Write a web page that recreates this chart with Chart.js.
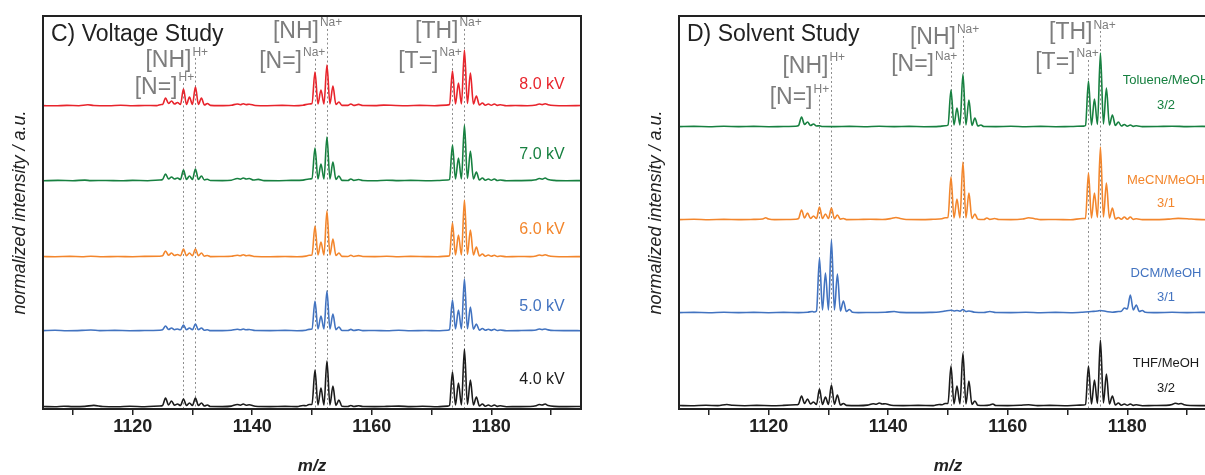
<!DOCTYPE html>
<html>
<head>
<meta charset="utf-8">
<title>ESI-MS voltage and solvent study</title>
<script src="https://cdn.jsdelivr.net/npm/chart.js@4.4.1/dist/chart.umd.min.js"></script>
<style>
  html, body { margin: 0; padding: 0; background: #fff; overflow: hidden; width: 1205px; height: 475px; position: relative; }
  canvas { position: absolute; top: 0; }
  #voltage { left: 0; }
  #solvent { left: 636px; }
</style>
</head>
<body>
<canvas id="voltage" width="600" height="475"></canvas>
<canvas id="solvent" width="600" height="475"></canvas>
<script>
// ---- axis ----
const mzMin = 1105;
const mzMax = 1195;
const tickValues = [1110, 1120, 1130, 1140, 1150, 1160, 1170, 1180, 1190];
const labeledTicks = [1120, 1140, 1160, 1180];

// ---- assignment markers (m/z of the dotted guide lines) ----
const markerMz   = [1128.5, 1130.5, 1150.5, 1152.5, 1173.5, 1175.5];
const markerMain = ['[N=]', '[NH]', '[N=]', '[NH]', '[T=]', '[TH]'];
const markerSup  = ['H+', 'H+', 'Na+', 'Na+', 'Na+', 'Na+'];

// ---- series names ----
const voltageNames = ['8.0 kV', '7.0 kV', '6.0 kV', '5.0 kV', '4.0 kV'];
const solventNames = [['Toluene/MeOH', '3/2'], ['MeCN/MeOH', '3/1'], ['DCM/MeOH', '3/1'], ['THF/MeOH', '3/2']];

// ---- spectra: [m/z, normalized intensity] ----
const kv8 = [
 [1105,0.4],[1107,0.2],[1109,0.6],[1111,0.3],[1112.5,1.2],[1113.5,0.5],[1116,0.3],[1118,0.7],[1120,0.2],[1122,0.5],[1124,0.4],[1124.8,1.5],
 [1125,1.5],[1125.5,8],[1126,2.5],[1126.5,5],[1127,2],[1127.5,3.5],[1128,1.5],[1128.5,17],[1129,1.5],[1129.5,9],[1130,1.5],[1130.5,19],[1131,1.5],[1131.5,8],[1132,1],[1132.5,2.5],[1133,0.6],
 [1134.5,0.4],[1136.5,0.8],[1137.5,2],[1138,1.3],[1138.5,2.2],[1139,1.4],[1139.5,1.8],[1140.5,0.5],[1142.5,0.3],[1145,0.6],[1147,0.3],[1148.5,0.8],[1149.5,2],
 [1150,2.5],[1150.5,34],[1151,2],[1151.5,16],[1152,2],[1152.5,41],[1153,2],[1153.5,20],[1154,1.5],[1154.5,4],[1155,0.6],[1156,0.6],[1156.5,2],[1157,0.6],[1157.8,1.6],[1158.5,0.5],
 [1160.5,0.4],[1162,0.9],[1164,0.5],[1166,0.3],[1168,0.6],[1170.5,0.3],[1172.5,0.9],[1173,1.5],
 [1173.5,35],[1174,2],[1174.5,23],[1175,2],[1175.5,56],[1176,2.5],[1176.5,33],[1177,2],[1177.5,10],[1178,1],[1178.5,3],[1179,0.8],[1179.5,2],[1180,0.7],[1180.5,2],[1181,0.6],[1181.5,1.3],[1182.5,0.3],
 [1184,0.5],[1186,0.3],[1187.5,1],[1188,2],[1188.5,1.4],[1189,2.2],[1189.5,1.2],[1190.5,0.5],[1192.5,0.3],[1195,0.5]
];
const kv7 = [
 [1105,0.3],[1107.5,0.6],[1110,0.3],[1112,0.9],[1113,0.4],[1115.5,0.5],[1118,0.2],[1120,0.6],[1122.5,0.3],[1124.5,1],
 [1125,1.5],[1125.5,7],[1126,2],[1126.5,4],[1127,2],[1127.5,3],[1128,1.5],[1128.5,11],[1129,1.5],[1129.5,5],[1130,1.5],[1130.5,12],[1131,1.5],[1131.5,5],[1132,1],[1132.5,1.8],[1133,0.5],
 [1135,0.4],[1136.5,0.8],[1137.5,2.5],[1138,1.8],[1138.5,3],[1139,2],[1139.5,2.5],[1140.2,1],[1141,1.6],[1142,0.4],[1144.5,0.3],[1146.5,0.6],[1148.5,0.9],[1149.5,2],
 [1150,2.5],[1150.5,33],[1151,2],[1151.5,17],[1152,2],[1152.5,44],[1153,2],[1153.5,19],[1154,1.5],[1154.5,5],[1155,0.6],[1156,0.5],[1156.5,2],[1157,0.6],[1157.8,1.5],[1158.5,0.5],
 [1160.5,0.3],[1162.5,0.8],[1164.5,0.4],[1166.5,0.6],[1169,0.3],[1171,0.5],[1172.7,1],[1173,1.5],
 [1173.5,36],[1174,2],[1174.5,23],[1175,2],[1175.5,56],[1176,2.5],[1176.5,30],[1177,2],[1177.5,9],[1178,1],[1178.5,3],[1179,0.8],[1179.5,2],[1180,0.7],[1180.5,2],[1181,0.5],[1181.5,1],[1182.5,0.3],
 [1184.5,0.4],[1186.5,0.6],[1187.5,1.2],[1188,2.5],[1188.5,1.8],[1189,3],[1189.5,1.5],[1190.5,0.6],[1192.5,0.3],[1195,0.4]
];
const kv6 = [
 [1105,0.5],[1107,0.3],[1109.5,0.6],[1111.5,0.3],[1113,0.8],[1115,0.3],[1117.5,0.5],[1120,0.3],[1122,0.6],[1124.5,0.8],
 [1125,1.2],[1125.5,6],[1126,1.8],[1126.5,4],[1127,1.5],[1127.5,2.5],[1128,1.2],[1128.5,8],[1129,1.2],[1129.5,4],[1130,1.2],[1130.5,8],[1131,1.2],[1131.5,4],[1132,0.8],[1132.5,1.5],[1133,0.4],
 [1135,0.5],[1136.5,0.7],[1137.5,1.8],[1138,1.2],[1138.5,2.2],[1139,1.3],[1139.5,1.6],[1140.5,0.5],[1143,0.3],[1145.5,0.5],[1147.5,0.3],[1149,0.9],[1149.5,1.8],
 [1150,2],[1150.5,31],[1151,2],[1151.5,15],[1152,2],[1152.5,46],[1153,2],[1153.5,18],[1154,1.5],[1154.5,4],[1155,0.6],[1156,0.5],[1156.5,1.8],[1157,0.5],[1157.8,1.4],[1158.5,0.5],
 [1160.5,0.4],[1162.5,0.7],[1164.5,0.3],[1166.5,0.6],[1169,0.4],[1171,0.3],[1172.7,0.9],[1173,1.4],
 [1173.5,34],[1174,2],[1174.5,22],[1175,2],[1175.5,57],[1176,2.5],[1176.5,27],[1177,2],[1177.5,10],[1178,1],[1178.5,3],[1179,0.8],[1179.5,2],[1180,0.7],[1180.5,1.8],[1181,0.5],[1181.5,1],[1182.5,0.3],
 [1184.5,0.5],[1186.5,0.4],[1187.5,1],[1188,2],[1188.5,1.5],[1189,2.2],[1189.5,1.2],[1190.5,0.5],[1192.5,0.3],[1195,0.4]
];
const kv5 = [
 [1105,0.4],[1107,0.7],[1109,0.3],[1111.5,0.6],[1113,1],[1114.5,0.4],[1117,0.6],[1119.5,0.3],[1122,0.5],[1124.5,0.8],
 [1125,1.2],[1125.5,5],[1126,1.5],[1126.5,3],[1127,1.3],[1127.5,2],[1128,1.2],[1128.5,6],[1129,1.2],[1129.5,3],[1130,1.2],[1130.5,7],[1131,1.2],[1131.5,3],[1132,0.8],[1132.5,1.3],[1133,0.4],
 [1135,0.4],[1136.5,0.8],[1137.5,1.8],[1138,1.2],[1138.5,2],[1139,1.2],[1139.5,1.5],[1140.5,0.5],[1143,0.4],[1145.5,0.6],[1147.5,0.3],[1149,0.8],[1149.5,1.6],
 [1150,2],[1150.5,30],[1151,2],[1151.5,15],[1152,2],[1152.5,40],[1153,2],[1153.5,17],[1154,1.3],[1154.5,4],[1155,0.5],[1156,0.5],[1156.5,1.6],[1157,0.5],[1157.8,1.3],[1158.5,0.4],
 [1160.5,0.5],[1162.5,0.3],[1164.5,0.7],[1166.5,0.3],[1169,0.5],[1171,0.3],[1172.7,0.8],[1173,1.3],
 [1173.5,31],[1174,2],[1174.5,21],[1175,2],[1175.5,52],[1176,2.3],[1176.5,24],[1177,1.8],[1177.5,7],[1178,0.9],[1178.5,2.5],[1179,0.7],[1179.5,1.8],[1180,0.6],[1180.5,1.8],[1181,0.5],[1181.5,1],[1182.5,0.3],
 [1184.5,0.4],[1186.5,0.6],[1187.5,1],[1188,2],[1188.5,1.4],[1189,2],[1189.5,1.1],[1190.5,0.5],[1192.5,0.4],[1195,0.3]
];
const kv4 = [
 [1105,0.5],[1107,0.3],[1108.5,0.8],[1110,0.4],[1112,0.6],[1113.5,1.6],[1115,0.5],[1117.5,0.3],[1119.5,0.8],[1122,0.3],[1124.5,1],
 [1125,1.5],[1125.5,9],[1126,2],[1126.5,6],[1127,1.8],[1127.5,3],[1128,1.5],[1128.5,8],[1129,1.5],[1129.5,4],[1130,1.5],[1130.5,9],[1131,1.5],[1131.5,4],[1132,1],[1132.5,2],[1133,0.5],
 [1135,0.4],[1136.5,0.9],[1137.5,2.5],[1138,1.8],[1138.5,3],[1139,1.8],[1139.5,2.2],[1140.5,0.7],[1143,0.4],[1145.5,0.6],[1147.5,0.4],[1148.5,1.5],[1149,1.2],[1149.5,2.5],
 [1150,2.5],[1150.5,37],[1151,2],[1151.5,19],[1152,2],[1152.5,46],[1153,2],[1153.5,21],[1154,1.5],[1154.5,7],[1155,0.8],[1156,0.5],[1156.5,1.5],[1157,0.5],[1157.8,1.2],[1158.5,0.5],
 [1160.5,0.4],[1162.5,0.6],[1164.5,0.9],[1166.5,0.4],[1168.5,0.7],[1171,0.3],[1172.7,0.9],[1173,1.5],
 [1173.5,35],[1174,2],[1174.5,24],[1175,2],[1175.5,58],[1176,2.5],[1176.5,27],[1177,2],[1177.5,10],[1178,1],[1178.5,3],[1179,0.8],[1179.5,2],[1180,0.7],[1180.5,2],[1181,0.6],[1181.5,1.2],[1182.5,0.3],
 [1184.5,0.4],[1186.5,0.5],[1187.5,1.3],[1188,2.5],[1188.5,2],[1189,3],[1189.5,1.5],[1190.5,0.6],[1192.5,0.4],[1195,0.5]
];

const tolMeOH = [
 [1105,0.4],[1107.5,0.6],[1110,0.3],[1112.5,0.7],[1115,0.4],[1117.5,0.6],[1120,0.3],[1122.5,0.5],[1124.5,0.8],
 [1125,1.5],[1125.5,10],[1126,2.5],[1126.5,5],[1127,1.5],[1127.5,3],[1128,1],[1128.5,1.2],[1129,0.5],
 [1131,0.4],[1133.5,0.6],[1136,0.3],[1138.5,0.7],[1141,0.4],[1143.5,0.6],[1146,0.3],[1148.5,0.6],[1149.5,1.2],
 [1150,2],[1150.5,37],[1151,2],[1151.5,19],[1152,2],[1152.5,53],[1153,2],[1153.5,27],[1154,1.5],[1154.5,9],[1155,1],[1155.5,2],[1156,0.5],
 [1158,0.4],[1160.5,0.7],[1163,0.3],[1165.5,0.6],[1168,0.3],[1170.5,0.5],[1172.7,0.9],[1173,1.5],
 [1173.5,46],[1174,2],[1174.5,28],[1175,2.5],[1175.5,74],[1176,3],[1176.5,39],[1177,2],[1177.5,12],[1178,1.5],[1178.5,5],[1179,1],[1179.5,2.5],[1180,0.8],[1180.5,2],[1181,0.6],[1181.5,1.2],[1182.5,0.4],
 [1185,0.5],[1187.5,0.8],[1190,0.4],[1192.5,0.6],[1195,0.3]
];
const mecnMeOH = [
 [1105,0.4],[1107.5,0.7],[1110,0.3],[1112.5,0.6],[1115,0.4],[1117.5,0.6],[1119,1],[1119.5,2.2],[1120,1],[1121,0.4],[1123,0.5],[1124.5,0.8],
 [1125,1.5],[1125.5,10],[1126,2],[1126.5,7],[1127,1.5],[1127.5,4],[1128,1.5],[1128.5,13],[1129,1.5],[1129.5,6],[1130,1.5],[1130.5,12],[1131,1.2],[1131.5,5],[1132,0.8],[1132.5,1.5],[1133,0.4],
 [1135,0.5],[1137,0.8],[1139,0.5],[1140.5,1.5],[1141.3,2.5],[1142,1.5],[1143,0.5],[1145.5,0.4],[1147.5,0.7],[1149,1.2],[1149.5,2.2],
 [1150,2.5],[1150.5,43],[1151,2],[1151.5,21],[1152,2],[1152.5,58],[1153,2],[1153.5,27],[1154,1.5],[1154.5,6],[1155,0.7],[1156,0.5],[1156.5,2],[1157,0.6],[1157.8,1.5],[1158.5,0.5],
 [1160.5,0.4],[1162.5,1],[1163.5,2.2],[1164.5,1.3],[1165.5,0.4],[1168,0.5],[1170.5,0.3],[1172.5,1.5],[1173,1.5],
 [1173.5,47],[1174,2],[1174.5,27],[1175,2.5],[1175.5,73],[1176,3],[1176.5,37],[1177,2],[1177.5,12],[1178,1],[1178.5,2.5],[1179,0.8],[1179.5,3],[1180,0.8],[1180.5,3],[1181,0.6],[1181.5,1.2],[1182.5,0.4],
 [1185,0.4],[1187,0.9],[1188.5,1.6],[1190,1.3],[1191.5,0.6],[1193.5,0.3],[1195,0.5]
];
const dcmMeOH = [
 [1105,0.4],[1107.5,0.6],[1110,0.3],[1112.5,0.7],[1115,0.4],[1117.5,0.6],[1120,0.3],[1122.5,0.6],[1125,0.4],[1126.5,0.8],[1127.3,1.5],[1127.6,1],
 [1128,2],[1128.5,55],[1129,3],[1129.5,40],[1130,3],[1130.5,73],[1131,3],[1131.5,39],[1132,2],[1132.5,12],[1133,1.5],[1133.5,3.5],[1134,0.8],[1135,0.4],
 [1137,0.5],[1139.5,0.7],[1141,1.5],[1142,0.6],[1144.5,0.4],[1147,0.6],[1148.5,1],[1149.5,2],[1150.5,2.8],[1151,2],[1151.5,2.5],[1152,1.8],[1152.5,3.5],[1153,1.5],[1153.5,2],[1154.5,0.8],
 [1156,0.5],[1157,1.5],[1158,0.5],[1160.5,0.4],[1163,0.7],[1165.5,0.3],[1168,0.6],[1170.5,0.3],[1172.5,0.8],[1174,1.5],[1175,2],[1175.5,2.5],[1176.5,1.5],[1177.5,0.8],[1178.5,1.5],
 [1179,1.8],[1179.5,5],[1180,4],[1180.5,18],[1181,3],[1181.5,8],[1182,1.5],[1182.5,2.5],[1183,0.8],
 [1185,0.4],[1187.5,0.7],[1190,0.4],[1192.5,0.6],[1195,0.3]
];
const thfMeOH = [
 [1105,0.5],[1107,0.3],[1109.5,0.7],[1111.5,0.4],[1113,1.5],[1114,0.7],[1116,0.3],[1118,0.6],[1120.5,0.3],[1122.5,0.6],[1124.5,1.2],
 [1125,2],[1125.5,10],[1126,2.5],[1126.5,7],[1127,2],[1127.5,4],[1128,1.5],[1128.5,17],[1129,1.5],[1129.5,9],[1130,1.5],[1130.5,21],[1131,1.8],[1131.5,11],[1132,1],[1132.5,2.5],[1133,0.6],
 [1135,0.4],[1136.5,0.9],[1137.5,2.3],[1138,1.8],[1138.5,3],[1139,2],[1139.5,2.2],[1140.5,0.7],[1142.5,0.4],[1145,0.6],[1147.5,0.4],[1148.5,1.5],[1149,1.2],[1149.5,2.5],
 [1150,2.5],[1150.5,40],[1151,2],[1151.5,20],[1152,2],[1152.5,53],[1153,2],[1153.5,25],[1154,1.5],[1154.5,5],[1155,0.7],[1156,0.5],[1157,1],[1157.5,2],[1158,0.5],
 [1160,0.4],[1162,0.7],[1163.5,1.2],[1165,0.4],[1167,0.6],[1169.5,0.3],[1171.5,0.7],[1172.7,1],[1173,1.5],
 [1173.5,40],[1174,2],[1174.5,26],[1175,2.5],[1175.5,66],[1176,3],[1176.5,32],[1177,2],[1177.5,10],[1178,1],[1178.5,3],[1179,0.8],[1179.5,2],[1180,0.7],[1180.5,2],[1181,0.6],[1181.5,1.2],[1182.5,0.3],
 [1184.5,0.5],[1186.5,0.6],[1187.5,1.5],[1188,2.8],[1188.5,2],[1189,2.5],[1189.5,1.2],[1190.5,0.5],[1192.5,0.4],[1195,0.3]
];

// vertical stacking offset of each spectrum (same units as intensity)
const voltageOffsets = [303, 228, 152, 78, 2];
const solventOffsets = [282, 189, 96, 3];

// ---- drawing ----
const FONT = '"Liberation Sans", Arial, Helvetica, sans-serif';
const RED = '#e8242c', GREEN = '#178040', ORANGE = '#f3862c', BLUE = '#4273c0', BLACK = '#1b1b1b';
const MARK_GREY = '#7d7d7d';

const decor = {
  id: 'panelDecor',
  beforeDatasetsDraw(chart, args, o) {
    const { ctx, chartArea: a, scales: { x } } = chart;
    ctx.save();
    ctx.strokeStyle = '#8c8c8c';
    ctx.lineWidth = 1;
    ctx.setLineDash([2, 2.5]);
    markerMz.forEach((mz, i) => {
      const px = Math.round(x.getPixelForValue(mz)) + 0.5;
      ctx.beginPath();
      ctx.moveTo(px, o.marks[i].top);
      ctx.lineTo(px, a.bottom);
      ctx.stroke();
    });
    ctx.restore();
  },
  afterDraw(chart, args, o) {
    const { ctx, chartArea: a, scales: { x } } = chart;
    ctx.save();
    // panel frame
    ctx.strokeStyle = '#222';
    ctx.lineWidth = 2;
    ctx.strokeRect(a.left, a.top, a.right - a.left, a.bottom - a.top);
    // panel heading
    ctx.fillStyle = '#222';
    ctx.textBaseline = 'middle';
    ctx.textAlign = 'left';
    ctx.font = '23px ' + FONT;
    ctx.fillText(o.heading, a.left + 8, a.top + 19);
    // ion assignments
    markerMz.forEach((mz, i) => {
      const m = o.marks[i];
      const px = x.getPixelForValue(mz);
      ctx.fillStyle = MARK_GREY;
      ctx.font = '23px ' + FONT;
      ctx.textAlign = 'right';
      ctx.fillText(markerMain[i], px + m.dx, m.y);
      ctx.font = '12px ' + FONT;
      ctx.textAlign = 'left';
      ctx.fillText(markerSup[i], px + m.dx + 1, m.supY);
    });
    // spectrum captions
    ctx.textAlign = 'center';
    o.captions.forEach(c => {
      ctx.fillStyle = c.color;
      ctx.font = c.size + 'px ' + FONT;
      c.lines.forEach((t, k) => ctx.fillText(t, o.captionX, c.y[k]));
    });
    ctx.restore();
  }
};

function points(series, offset) {
  return series.map(([mz, v]) => ({ x: mz, y: v + offset }));
}

function buildChart(id, seriesList, offsets, colors, decorOpts) {
  return new Chart(document.getElementById(id), {
    type: 'line',
    data: {
      datasets: seriesList.map((s, i) => ({
        data: points(s, offsets[i]),
        borderColor: colors[i],
        borderWidth: 1.6,
        pointRadius: 0,
        cubicInterpolationMode: 'monotone',
        fill: false
      }))
    },
    options: {
      responsive: false,
      animation: false,
      devicePixelRatio: 1,
      events: [],
      layout: { padding: { top: 16, right: 19, left: 0, bottom: 0 } },
      plugins: { legend: { display: false }, tooltip: { enabled: false }, panelDecor: decorOpts },
      scales: {
        x: {
          type: 'linear', min: mzMin, max: mzMax, position: 'bottom',
          afterBuildTicks(s) { s.ticks = tickValues.map(v => ({ value: v })); },
          afterFit(s) { s.height = 66; },
          ticks: {
            autoSkip: false, maxRotation: 0, padding: 1, color: '#222',
            font: { family: FONT, size: 18, weight: 'bold' },
            callback: v => (labeledTicks.includes(v) ? String(v) : '')
          },
          grid: { display: true, drawOnChartArea: false, drawTicks: true, tickLength: 6, color: '#222', lineWidth: 1.5 },
          border: { display: false },
          title: {
            display: true, text: 'm/z', color: '#222',
            font: { family: FONT, size: 17, weight: 'bold', style: 'italic', lineHeight: 1 },
            padding: { top: 0, bottom: 0 }
          }
        },
        y: {
          min: 0, max: 393,
          afterFit(s) { s.width = 43; },
          ticks: { display: false },
          grid: { display: false, drawTicks: false },
          border: { display: false },
          title: {
            display: true, text: 'normalized intensity / a.u.', color: '#222',
            font: { family: FONT, size: 18, style: 'italic', lineHeight: 1.2 },
            padding: { top: 9, bottom: 0 }
          }
        }
      }
    },
    plugins: [decor]
  });
}

buildChart('voltage', [kv8, kv7, kv6, kv5, kv4], voltageOffsets, [RED, GREEN, ORANGE, BLUE, BLACK], {
  heading: 'C) Voltage Study',
  marks: [
    { dx: -6,  y: 88, supY: 78, top: 83 },
    { dx: -4,  y: 61, supY: 53, top: 58 },
    { dx: -13, y: 62, supY: 53, top: 59 },
    { dx: -8,  y: 32, supY: 23, top: 29 },
    { dx: -14, y: 62, supY: 53, top: 59 },
    { dx: -6,  y: 32, supY: 23, top: 29 }
  ],
  captionX: 542,
  captions: voltageNames.map((n, i) => ({
    lines: [n], y: [[85, 155, 230, 307, 380][i]], size: 16,
    color: [RED, GREEN, ORANGE, BLUE, BLACK][i]
  }))
});

buildChart('solvent', [tolMeOH, mecnMeOH, dcmMeOH, thfMeOH], solventOffsets, [GREEN, ORANGE, BLUE, BLACK], {
  heading: 'D) Solvent Study',
  marks: [
    { dx: -7,  y: 98, supY: 90, top: 95 },
    { dx: -3,  y: 67, supY: 58, top: 63 },
    { dx: -17, y: 65, supY: 57, top: 62 },
    { dx: -7,  y: 38, supY: 30, top: 36 },
    { dx: -13, y: 63, supY: 54, top: 60 },
    { dx: -8,  y: 33, supY: 26, top: 31 }
  ],
  captionX: 530,
  captions: solventNames.map((n, i) => ({
    lines: n, y: [[80, 105], [180, 203], [273, 297], [363, 388]][i], size: 13,
    color: [GREEN, ORANGE, BLUE, BLACK][i]
  }))
});
</script>
</body>
</html>
